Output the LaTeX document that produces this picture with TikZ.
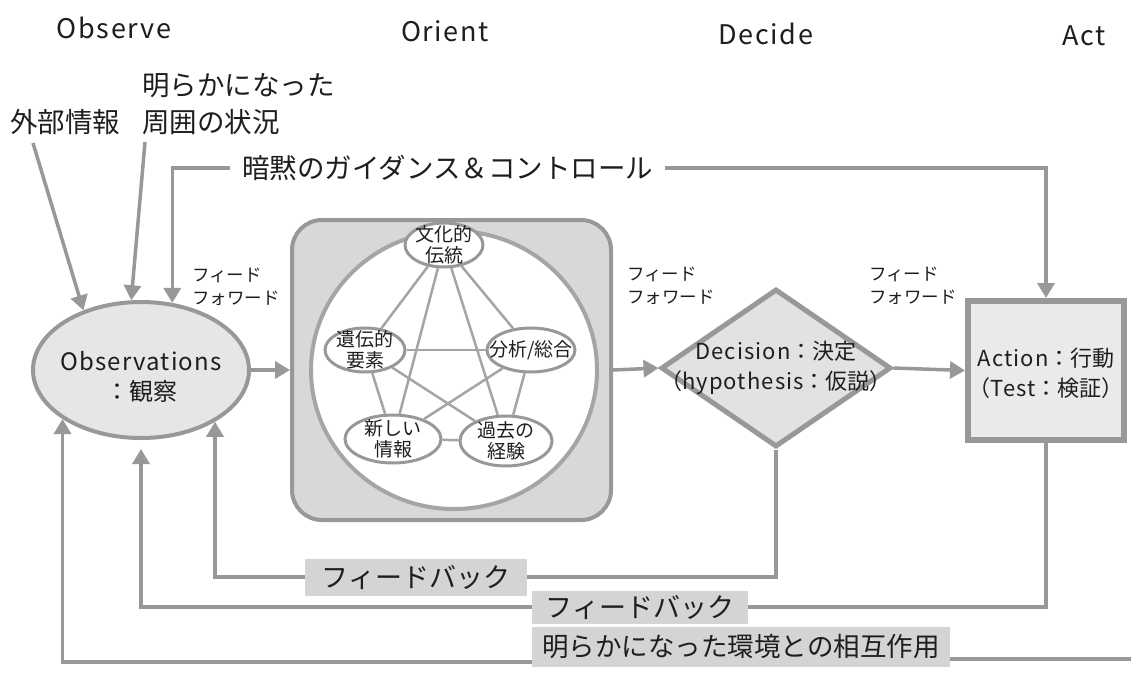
\documentclass[tikz,border=0pt]{standalone}
\usepackage{fontspec}
\setmainfont{Noto Sans CJK JP}
\newfontfamily\hdrfont[LetterSpace=6]{Noto Sans CJK JP}
\newfontfamily\lat[LetterSpace=5]{Noto Sans CJK JP}
\usetikzlibrary{shapes.geometric,arrows.meta}
\definecolor{ln}{RGB}{152,152,152}
\definecolor{ln2}{RGB}{165,165,165}
\definecolor{txt}{RGB}{30,30,30}
\definecolor{obsfill}{RGB}{230,230,230}
\definecolor{orfill}{RGB}{216,216,216}
\definecolor{decfill}{RGB}{226,226,226}
\definecolor{actfill}{RGB}{234,234,234}
\definecolor{fbfill}{RGB}{212,212,212}
\tikzset{
  every node/.style={text=txt},
  hdr/.style={font=\hdrfont\fontsize{27}{30}\selectfont, inner sep=0},
  big/.style={font=\fontsize{27.5}{37}\selectfont, inner sep=0},
  ffw/.style={font=\fontsize{17.5}{23}\selectfont, align=left, inner sep=0},
  conn/.style={draw=ln, line width=3.5pt},
  arr/.style={conn, -{Triangle[width=17pt,length=15pt]}},
  pent/.style={draw=ln2, line width=2.5pt},
  sm/.style={ellipse, draw=ln, line width=3pt, fill=white, inner sep=0},
  smlab/.style={font=\fontsize{19}{21}\selectfont, align=center, inner sep=0},
  mid/.style={font=\fontsize{22}{30}\selectfont, align=center, inner sep=0},
  fbbox/.style={fill=fbfill, inner sep=0, font=\fontsize{27}{30}\selectfont},
}
\begin{document}
\begin{tikzpicture}[x=1pt,y=-1pt]
\useasboundingbox (0,0) rectangle (1131,674);
\fill[white] (0,0) rectangle (1131,674);

% headers
\node[hdr] (hObs) at (114,28) {Observe};
\node[hdr] (hOri) at (445,31) {Orient};
\node[hdr] (hDec) at (766,34) {Decide};
\node[hdr] (hAct) at (1084,36) {Act};

% top labels
\node[big, anchor=west, align=left] (surr) at (142,104) {明らかになった\\周囲の状況};
\node[big, anchor=west] (ext) at (10,122) {外部情報};
\node[big, anchor=west, inner xsep=12pt] (guid) at (230,168) {暗黙のガイダンス＆コントロール};

% feed forward labels
\node[ffw] (ff1) at (236,287) {フィード\\フォワード};
\node[ffw] (ff2) at (671,286) {フィード\\フォワード};
\node[ffw] (ff3) at (913,286) {フィード\\フォワード};

% observations
\node[ellipse, draw=ln, line width=4pt, fill=obsfill, minimum width=216, minimum height=136, inner sep=0,
      label={[mid, font=\fontsize{24}{30}\selectfont, yshift=-7pt]center:{\lat Observations}\\：観察}] (obs) at (141,370) {};

% orient
\node[draw=ln, line width=4pt, fill=orfill, rounded corners=30pt, minimum width=319, minimum height=300, inner sep=0] (orient) at (451.5,370) {};
\node[ellipse, draw=ln2, line width=4pt, fill=white, minimum width=286, minimum height=278, inner sep=0] (circ) at (454,370) {};

\node[sm, minimum width=78, minimum height=44, label={[smlab]center:文化的\\伝統}] (cul) at (444,245) {};
\node[sm, minimum width=88, minimum height=44, label={[smlab]center:分析/総合}] (ana) at (531,350) {};
\node[sm, minimum width=80, minimum height=44, label={[smlab]center:遺伝的\\要素}] (gen) at (365,350) {};
\node[sm, minimum width=96, minimum height=48, label={[smlab]center:新しい\\情報}] (new) at (393,439) {};
\node[sm, minimum width=92, minimum height=50, label={[smlab]center:過去の\\経験}] (past) at (506,441) {};

\draw[pent] (cul) -- (ana);
\draw[pent] (ana) -- (past);
\draw[pent] (past) -- (new);
\draw[pent] (new) -- (gen);
\draw[pent] (gen) -- (cul);
\draw[pent] (cul) -- (new);
\draw[pent] (cul) -- (past);
\draw[pent] (gen) -- (ana);
\draw[pent] (ana) -- (new);
\draw[pent] (gen) -- (past);

% decide
\node[diamond, draw=ln, line width=5pt, fill=decfill, minimum width=230, minimum height=158, inner sep=0,
      label={[mid]center:{\lat Decision}：決定\\（{\lat hypothesis}：仮説）}] (dec) at (776,368) {};

% act
\node[draw=ln, line width=6pt, fill=actfill, minimum width=156, minimum height=139, inner sep=0,
      label={[mid, yshift=-3pt]center:{\lat Action}：行動\\（{\lat Test}：検証）}] (act) at (1046,370.5) {};

% feedback labels
\node[fbbox, minimum width=222, minimum height=37] (fb1) at (416,577) {フィードバック};
\node[fbbox, minimum width=216, minimum height=33] (fb2) at (640,607) {フィードバック};
\node[fbbox, minimum width=418, minimum height=40, font=\fontsize{26.5}{30}\selectfont] (fb3) at (741,647) {明らかになった環境との相互作用};
\coordinate (edge) at (1131,659);
\coordinate (c1) at (33,143);
\coordinate (c2) at (145,142);

% connectors
\draw[arr] (c1) -- (obs.134);
\draw[arr] (c2) -- (obs.98);
\draw[arr] (guid.west) -| (obs.65);
\draw[arr] (guid.east) -| (act.north);

\draw[arr] (obs.east) -- (orient.west);
\draw[arr] (orient.east) -- (dec.west);
\draw[arr] (dec.east) -- (act.west);

\draw[conn] (dec.south) |- (fb1.east);
\draw[arr] (fb1.west) -| (obs.-35);
\draw[conn] (act.south) |- (fb2.east);
\draw[arr, shorten >=9pt] (fb2.west) -| (obs.south);
\draw[conn] (edge) -- ([yshift=-12pt]fb3.east);
\draw[arr] ([yshift=-15pt]fb3.west) -| (obs.-148);
\end{tikzpicture}
\end{document}
